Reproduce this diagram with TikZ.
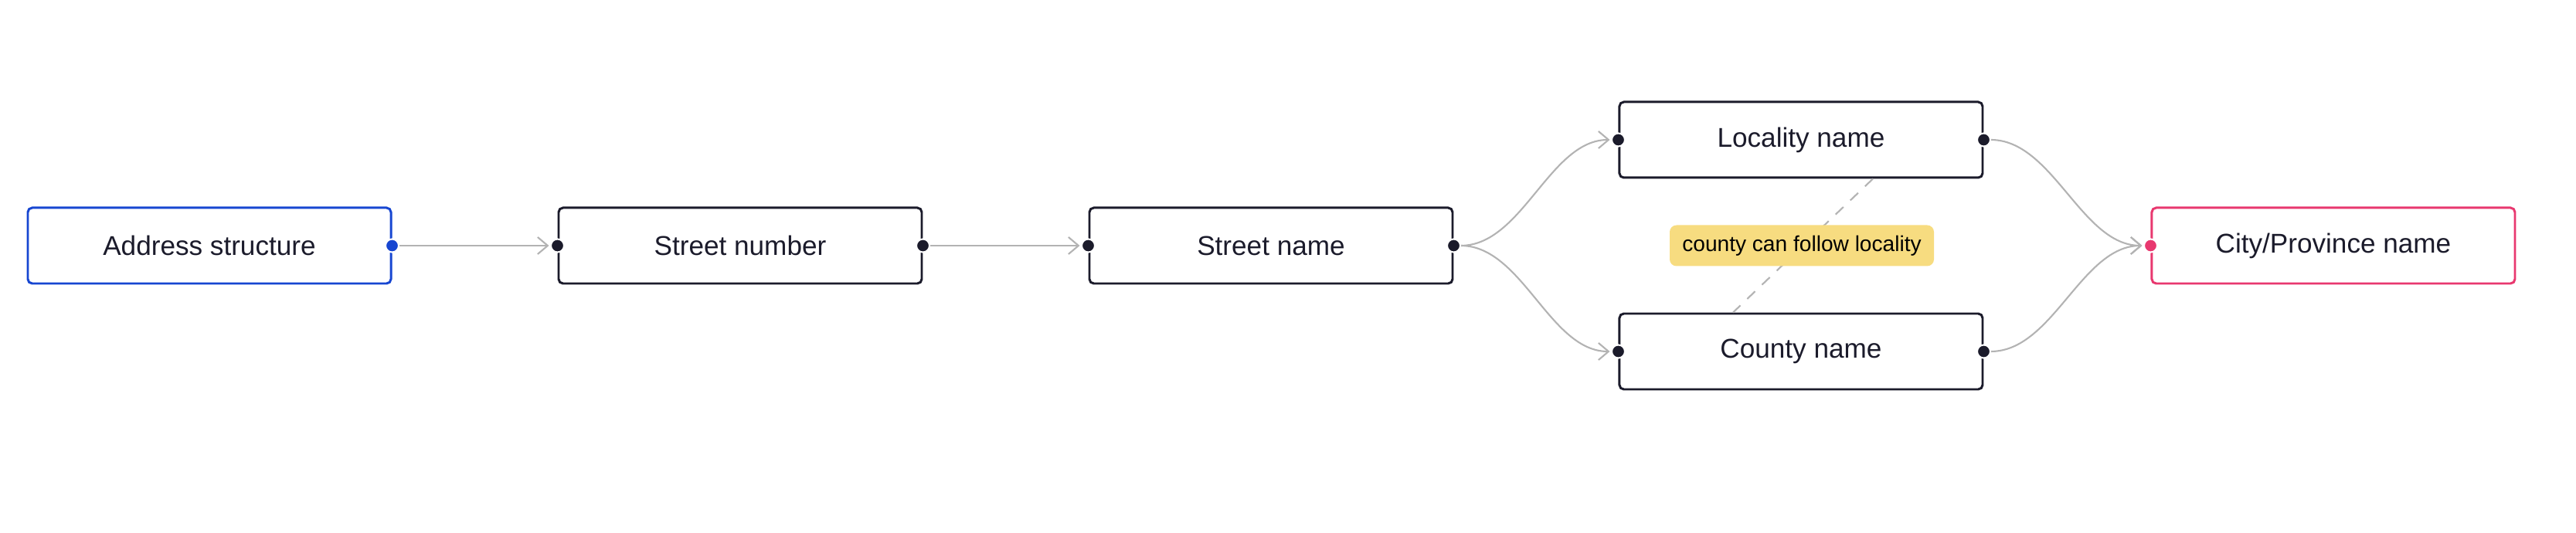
\documentclass[tikz,border=0pt]{standalone}
\usepackage{fontspec}
\setmainfont{Liberation Sans}
\usepackage{xcolor}
\usetikzlibrary{arrows.meta, positioning}

\definecolor{inkdark}{HTML}{1B1B2B}
\definecolor{startblue}{HTML}{1746D1}
\definecolor{endpink}{HTML}{E8386F}
\definecolor{linkgray}{HTML}{B3B3B3}
\definecolor{noteyellow}{HTML}{F7DC80}

\tikzset{
  field/.style={draw=inkdark, line width=0.85pt, rounded corners=1.6pt,
    minimum width=4.7cm, minimum height=0.98cm, font=\fontsize{10}{12}\selectfont, text=inkdark},
  port/.style={circle, fill=#1, draw=white, line width=0.6pt, inner sep=0pt, minimum size=0.17cm},
  link/.style={draw=linkgray, line width=0.6pt, -{Straight Barb[length=1.3mm,width=2.2mm]},
    shorten <=0.09cm, shorten >=0.11cm},
  note/.style={fill=noteyellow, rounded corners=2.5pt, minimum width=3.42cm, minimum height=0.53cm,
    font=\fontsize{8}{10}\selectfont, text=black}
}

\begin{document}
\begin{tikzpicture}
  \useasboundingbox (0,0) rectangle (33.34,6.9);

  % Fields of the address, left to right
  \node[field, draw=startblue] (addr) at (2.71,3.72) {Address structure};
  \node[field, right=2.14cm of addr] (snum) {Street number};
  \node[field, right=2.14cm of snum] (sname) {Street name};
  \node[field, right=2.13cm of sname, yshift=1.37cm] (loc) {Locality name};
  \node[field, right=2.13cm of sname, yshift=-1.37cm] (cty) {County name};
  \node[field, draw=endpink, right=2.16cm of sname.east -| loc.east] (city) {City/Province name};

  % Optional order between locality and county
  \draw[linkgray, line width=0.6pt, dashed, dash pattern=on 4pt off 3.5pt]
    ([xshift=0.93cm]loc.south) -- ([xshift=-0.88cm]cty.north);
  \node[note] (hint) at (23.32,3.72) {county can follow locality};

  % Links
  \draw[link] (addr.east) -- (snum.west);
  \draw[link] (snum.east) -- (sname.west);
  \draw[link] (sname.east) to[out=0, in=180, looseness=0.9] (loc.west);
  \draw[link] (sname.east) to[out=0, in=180, looseness=0.9] (cty.west);
  \draw[link] (loc.east) to[out=0, in=180, looseness=0.9] (city.west);
  \draw[link] (cty.east) to[out=0, in=180, looseness=0.9] (city.west);

  % Ports
  \node[port=startblue] (p1) at (addr.east) {};
  \foreach \f in {snum, sname, loc, cty} {
    \node[port=inkdark] at (\f.west) {};
    \node[port=inkdark] at (\f.east) {};
  }
  \node[port=endpink] (p2) at (city.west) {};
\end{tikzpicture}
\end{document}
